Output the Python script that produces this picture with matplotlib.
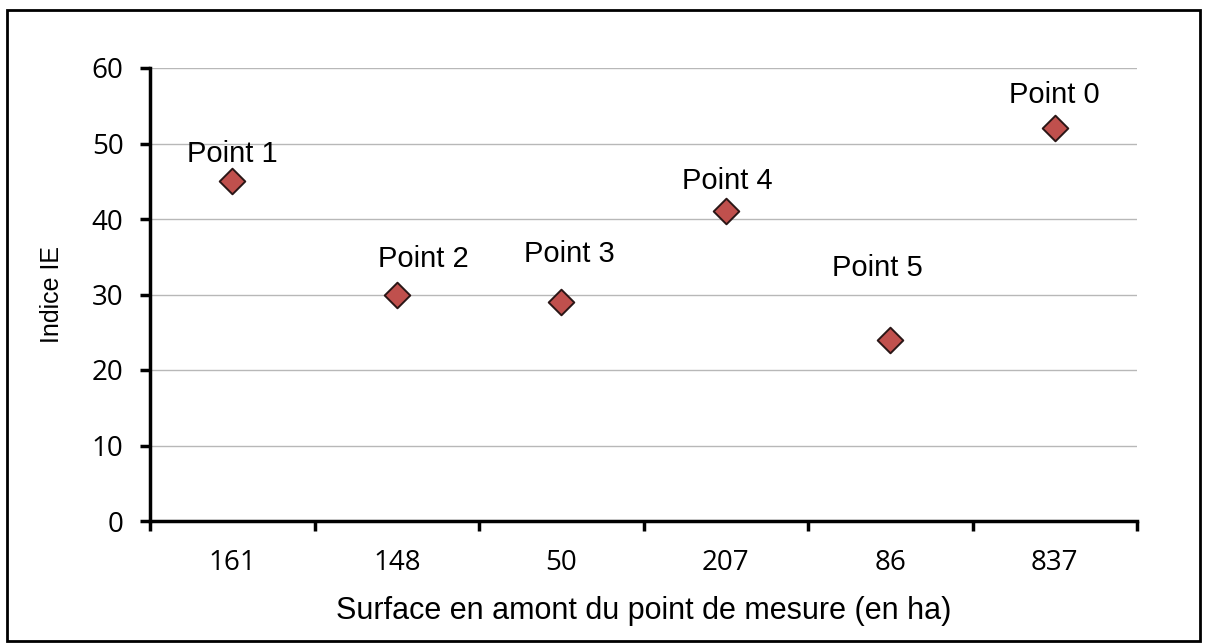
import matplotlib.pyplot as plt
from matplotlib.patches import Rectangle

plt.rcParams["font.family"] = "Open Sans"

surfaces = ["161", "148", "50", "207", "86", "837"]
indice_ie = [45, 30, 29, 41, 24, 52]
noms = ["Point 1", "Point 2", "Point 3", "Point 4", "Point 5", "Point 0"]

# label baseline offsets from each marker (points)
decal_y = [14, 20, 29, 16, 46, 18]
decal_x = [0, 19, 6, 1, -9, 0]

fig = plt.figure(figsize=(12.09, 6.44), dpi=100)
fig.patch.set_facecolor("white")
ax = fig.add_axes([150 / 1209, 1 - 521 / 644, (1137 - 150) / 1209, (521 - 68) / 644])

# frame round the whole chart
fig.patches.append(Rectangle((7 / 1209, 3 / 644), 1193 / 1209, 631 / 644,
                             transform=fig.transFigure, fill=False,
                             edgecolor="black", linewidth=2))

x = range(len(surfaces))
ax.scatter(x, indice_ie, marker="D", s=170, color="#c0504d",
           edgecolors="#2a1616", linewidths=1.4, zorder=3)

for i, (nom, v) in enumerate(zip(noms, indice_ie)):
    ax.annotate(nom, (i, v), xytext=(decal_x[i], decal_y[i]),
                textcoords="offset points", ha="center", va="baseline",
                fontsize=21, family="Liberation Sans")

ax.set_xlim(-0.5, len(surfaces) - 0.5)
ax.set_ylim(0, 60)
ax.set_yticks(range(0, 61, 10))
ax.set_xticks(list(x))
ax.set_xticklabels(surfaces)
ax.set_xticks([i + 0.5 for i in range(-1, len(surfaces))], minor=True)
ax.tick_params(axis="x", which="major", length=0, pad=20, labelsize=20)
ax.tick_params(axis="x", which="minor", length=7, width=2.5, direction="out")
ax.tick_params(axis="y", length=7, width=2.5, direction="out", pad=12, labelsize=20)

ax.grid(axis="y", color="#b8b8b8", linewidth=1)
ax.set_axisbelow(True)
for s in ["top", "right"]:
    ax.spines[s].set_visible(False)
for s in ["left", "bottom"]:
    ax.spines[s].set_linewidth(2.5)

ax.set_xlabel("Surface en amont du point de mesure (en ha)", fontsize=22,
              family="Liberation Sans", labelpad=14)
ax.set_ylabel("Indice IE", fontsize=18, family="Liberation Sans", labelpad=20)

fig.savefig("out.png", dpi=100)
